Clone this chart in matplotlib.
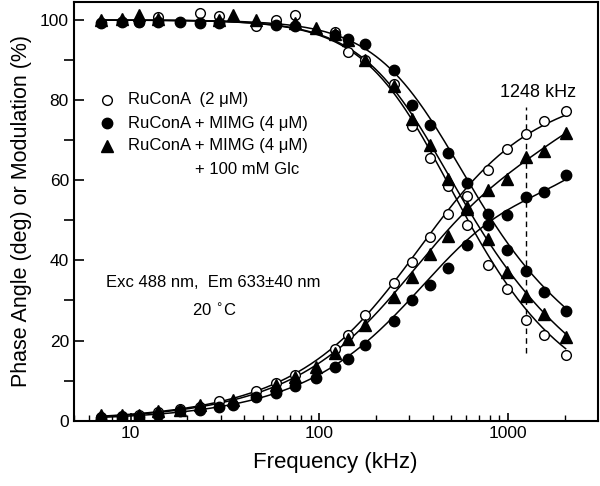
import numpy as np
import matplotlib
matplotlib.use("Agg")
import matplotlib.pyplot as plt

plt.rcParams['font.family'] = ['Liberation Sans', 'DejaVu Sans']

nan = np.nan
# Frequencies (kHz)
freq_khz = [7, 9, 11.1, 14, 18.3, 23.4, 29.5, 35, 46, 59, 74, 96, 121, 142, 175,
            248, 309, 385, 480, 604, 781, 984, 1248, 1545, 2018]

# RuConA (2 uM) -- open circles
phase_ruconA = [1.0, 1.2, 1.3, 2.2, 2.9, 3.5, 4.8, nan, 7.3, 9.3, 11.5, nan, 18.0, 21.5, 26.4,
                34.3, 39.7, 45.8, 51.6, 56.0, 62.5, 67.7, 71.5, 74.8, 77.2]
mod_ruconA = [nan, nan, 99.6, 100.8, nan, 101.8, 101.0, nan, 98.5, 100.0, 101.2, nan, 96.9, 92.1, 90.0,
              84.0, 73.5, 65.6, 58.6, 48.8, 38.8, 32.9, 25.2, 21.5, 16.5]

# RuConA + MIMG (4 uM) -- filled circles
phase_mimg = [0.7, 0.8, 1.0, 1.5, 2.5, 2.7, 3.3, 3.8, 5.8, 7.0, 8.6, 10.7, 13.5, 15.4, 18.9,
              25.0, 30.0, 33.9, 38.2, 43.8, 48.8, 51.3, 55.8, 57.0, 61.3]
mod_mimg = [99.3, 99.6, 99.6, 99.6, 99.6, 99.2, 99.3, nan, nan, 98.8, 98.6, nan, 96.3, 95.3, 94.0,
            87.5, 78.9, 73.9, 66.7, 59.3, 51.7, 42.7, 37.3, 32.1, 27.5]

# RuConA + MIMG (4 uM) + 100 mM Glc -- filled triangles
phase_glc = [1.5, 1.5, 1.5, 2.5, 2.7, 4.0, nan, 5.2, nan, 9.0, 11.0, 13.5, 16.8, 20.4, 23.8,
             30.8, 35.8, 41.5, 46.2, 52.9, 57.7, 60.3, 65.8, 67.3, 71.7]
mod_glc = [100.0, 100.2, 101.2, 100.2, nan, nan, 100.0, 101.2, 100.0, nan, 99.2, 97.9, 96.5, 95.0, 90.0,
           83.5, 75.4, 68.9, 60.4, 53.3, 45.4, 37.1, 31.2, 26.7, 20.8]

legend_labels = ["RuConA  (2 \u03bcM)", "RuConA + MIMG (4 \u03bcM)", "RuConA + MIMG (4 \u03bcM)"]


def fit_two_lifetimes(f, ph, md):
    """Least-squares two-component lifetime fit (grid search) to phase & modulation."""
    f = np.asarray(f, float)
    ph = np.asarray(ph, float)
    md = np.asarray(md, float)
    w = 2 * np.pi * f * 1e3
    taus = np.geomspace(1e-9, 3e-6, 90)
    fr = np.linspace(0, 1, 51)
    T1, T2, F1 = np.meshgrid(taus, taus, fr, indexing='ij')
    err = np.zeros(T1.shape)
    for wi, p, m in zip(w, ph, md):
        a1 = wi * T1
        a2 = wi * T2
        N = F1 * a1 / (1 + a1 ** 2) + (1 - F1) * a2 / (1 + a2 ** 2)
        D = F1 / (1 + a1 ** 2) + (1 - F1) / (1 + a2 ** 2)
        if not np.isnan(p):
            err += (np.degrees(np.arctan2(N, D)) - p) ** 2
        if not np.isnan(m):
            err += (100 * np.sqrt(N ** 2 + D ** 2) - m) ** 2
    i = np.unravel_index(np.argmin(err), err.shape)
    t1, t2, f1 = T1[i], T2[i], F1[i]
    fc = np.geomspace(f.min(), f.max(), 300)
    wc = 2 * np.pi * fc * 1e3
    a1, a2 = wc * t1, wc * t2
    N = f1 * a1 / (1 + a1 ** 2) + (1 - f1) * a2 / (1 + a2 ** 2)
    D = f1 / (1 + a1 ** 2) + (1 - f1) / (1 + a2 ** 2)
    return fc, np.degrees(np.arctan2(N, D)), 100 * np.sqrt(N ** 2 + D ** 2)


fig = plt.figure(figsize=(6.0, 4.86), dpi=100)
ax = fig.add_axes([0.123, 0.1344, 0.873, 0.8615])

series = [
    (phase_ruconA, mod_ruconA, dict(marker='o', mfc='white', mec='black', ms=7, mew=1.0)),
    (phase_mimg, mod_mimg, dict(marker='o', mfc='black', mec='black', ms=7.5, mew=1.0)),
    (phase_glc, mod_glc, dict(marker='^', mfc='black', mec='black', ms=8, mew=1.0)),
]

for ph, md, st in series:
    fc, phc, mdc = fit_two_lifetimes(freq_khz, ph, md)
    ax.plot(fc, phc, color='black', lw=1.1, zorder=2)
    ax.plot(fc, mdc, color='black', lw=1.1, zorder=2)
for ph, md, st in series:
    ax.plot(freq_khz, ph, ls='none', zorder=3, **st)
    ax.plot(freq_khz, md, ls='none', zorder=3, **st)

ax.set_xscale('log')
ax.set_xlim(5, 2980)
ax.set_ylim(0, 104.5)
ax.set_yticks([0, 20, 40, 60, 80, 100])
ax.set_yticks(np.arange(10, 101, 20), minor=True)
ax.set_xticks([10, 100, 1000])
ax.set_xticklabels(['10', '100', '1000'])
ax.tick_params(axis='both', which='major', direction='in', labelsize=12.5, width=1.2)
ax.tick_params(axis='y', which='both', length=7)
ax.tick_params(axis='y', which='minor', width=1.2)
ax.tick_params(axis='x', which='major', length=6)
ax.tick_params(axis='x', which='minor', direction='in', length=4, width=1.0)
ax.xaxis.set_minor_formatter(matplotlib.ticker.NullFormatter())
for s in ax.spines.values():
    s.set_linewidth(1.5)

ax.set_xlabel('Frequency (kHz)', fontsize=16, labelpad=8)
ax.set_ylabel('Phase Angle (deg) or Modulation (%)', fontsize=15.5, labelpad=6)

# Legend (manual)
tr = ax.transAxes
rows_y = [0.766, 0.710, 0.657]
for (ph, md, st), yy, lab in zip(series, rows_y, legend_labels):
    ax.plot([0.0628], [yy], transform=tr, ls='none', clip_on=False, **st)
    ax.text(0.104, yy, lab, transform=tr, fontsize=12, va='center', ha='left')
ax.text(0.231, 0.599, '+ 100 mM Glc', transform=tr, fontsize=12, va='center', ha='left')

ax.text(0.266, 0.330, 'Exc 488 nm,  Em 633\u00b140 nm', transform=tr, fontsize=12,
        va='center', ha='center')
ax.text(0.269, 0.264, '20 $^{\\circ}$C', transform=tr, fontsize=12, va='center', ha='center')

# 1248 kHz marker
ax.plot([1248, 1248], [16.8, 78.3], color='black', lw=1.0, ls=(0, (4, 3)), zorder=1)
ax.text(0.886, 0.783, '1248 kHz', transform=tr, fontsize=13, va='center', ha='center')

fig.savefig('out.png', dpi=100)
